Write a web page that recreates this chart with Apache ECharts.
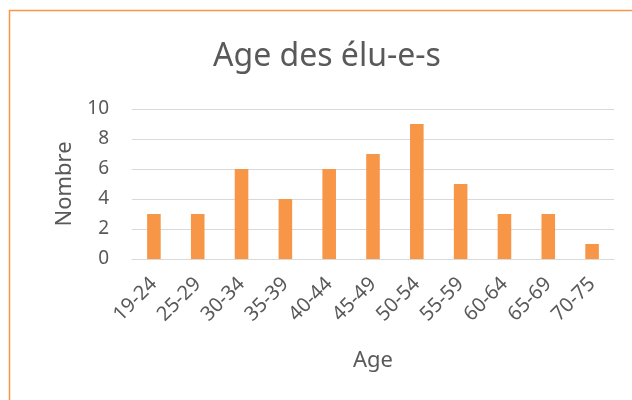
<!DOCTYPE html>
<html><head><meta charset="utf-8">
<script src="https://cdn.jsdelivr.net/npm/echarts@6/dist/echarts.min.js"></script>
<style>html,body{margin:0;padding:0;background:#fff}#c{width:632px;height:400px}</style>
</head><body><div id="c"></div>
<script>
const categories = ['19-24','25-29','30-34','35-39','40-44','45-49','50-54','55-59','60-64','65-69','70-75'];
const values = [3,3,6,4,6,7,9,5,3,3,1];
const yTicks = [0,2,4,6,8,10];
const font = 'Noto Sans';
const chart = echarts.init(document.getElementById('c'));
chart.setOption({
  animation:false,
  backgroundColor:'#fff',
  graphic:[{type:'rect',shape:{x:9.5,y:10.5,width:700,height:500},style:{fill:'none',stroke:'#F79646',lineWidth:1.5}}],
  title:{text:'Age des élu-e-s',left:208,top:36,textStyle:{fontFamily:font,fontSize:32,fontWeight:'normal',color:'#595959'}},
  grid:{left:132,right:18,top:109,bottom:141},
  xAxis:{type:'category',data:categories,name:'Age',nameLocation:'middle',nameGap:91,
    nameTextStyle:{fontFamily:font,fontSize:22,color:'#595959'},
    axisLine:{lineStyle:{color:'#d9d9d9'}},axisTick:{show:false},
    axisLabel:{rotate:45,fontFamily:font,fontSize:20,color:'#595959',margin:22}},
  yAxis:{type:'value',min:yTicks[0],max:yTicks[yTicks.length-1],interval:2,name:'Nombre',nameLocation:'middle',nameGap:56,
    nameTextStyle:{fontFamily:font,fontSize:22,color:'#595959'},
    axisLabel:{fontFamily:font,fontSize:19,color:'#595959',margin:23},
    splitLine:{lineStyle:{color:'#d9d9d9'}},axisLine:{show:false},axisTick:{show:false}},
  series:[{type:'bar',data:values,barWidth:'31%',itemStyle:{color:'#F79646'}}]
});
</script></body></html>
